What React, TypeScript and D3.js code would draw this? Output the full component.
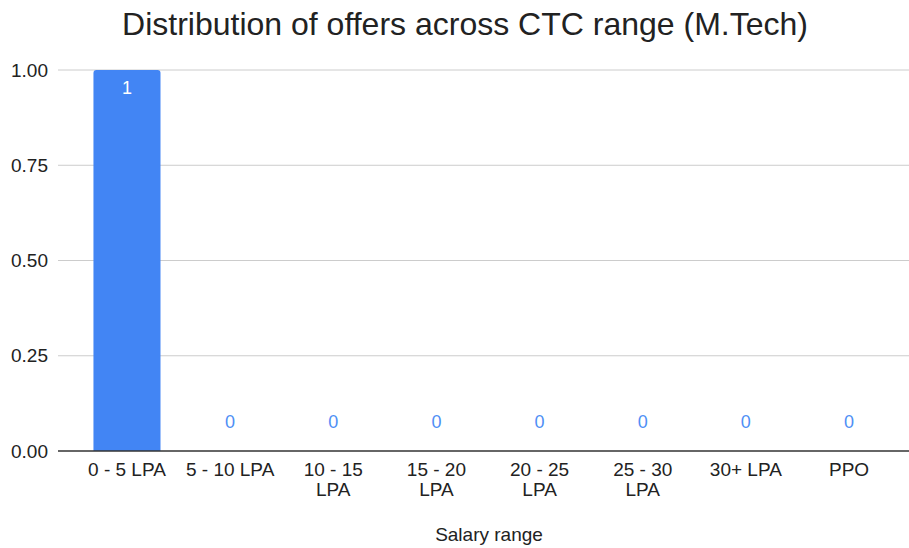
import React from "react";
import * as d3 from "d3";

const categories: string[][] = [
  ["0 - 5 LPA"],
  ["5 - 10 LPA"],
  ["10 - 15", "LPA"],
  ["15 - 20", "LPA"],
  ["20 - 25", "LPA"],
  ["25 - 30", "LPA"],
  ["30+ LPA"],
  ["PPO"],
];
const values: number[] = [1, 0, 0, 0, 0, 0, 0, 0];
const yTicks: number[] = [0, 0.25, 0.5, 0.75, 1];

const W = 909;
const H = 548;
const FONT = "Arial, 'Liberation Sans', sans-serif";

export default function App() {
  const gridLeft = 58;
  const gridRight = 909;
  const x = d3
    .scaleBand<number>()
    .domain(categories.map((_, i) => i))
    .range([75.4, 900.6])
    .paddingInner(0.35)
    .paddingOuter(0.175);
  const y = d3.scaleLinear().domain([0, 1]).range([451, 70]);

  return (
    <div style={{ position: "absolute", left: 0, top: 0 }}>
      <svg width={W} height={H} style={{ display: "block", background: "#fff" }}>
        <text x={465} y={35} textAnchor="middle" fontFamily={FONT} fontSize={32} fill="#222">
          Distribution of offers across CTC range (M.Tech)
        </text>
        {yTicks.map((t) => (
          <g key={t}>
            {t !== 0 && (
              <line x1={gridLeft} x2={gridRight} y1={y(t)} y2={y(t)} stroke="#cccccc" strokeWidth={1} />
            )}
            <text x={48} y={y(t)} dy="0.35em" textAnchor="end" fontFamily={FONT} fontSize={19} fill="#222">
              {d3.format(".2f")(t)}
            </text>
          </g>
        ))}
        {values.map((v, i) => {
          const bx = x(i)!;
          const bw = x.bandwidth();
          const by = y(v);
          const bh = y(0) - y(v);
          const r = 3;
          return (
            <g key={i}>
              {v > 0 && (
                <path
                  d={`M${bx},${by + bh} L${bx},${by + r} Q${bx},${by} ${bx + r},${by} L${bx + bw - r},${by} Q${bx + bw},${by} ${bx + bw},${by + r} L${bx + bw},${by + bh} Z`}
                  fill="#4285f4"
                />
              )}
              <text
                x={bx + bw / 2}
                y={v > 0 ? by + 24 : y(0) - 23}
                textAnchor="middle"
                fontFamily={FONT}
                fontSize={18}
                fill={v > 0 ? "#ffffff" : "#4f8ff5"}
              >
                {v}
              </text>
              {categories[i].map((line, j) => (
                <text
                  key={j}
                  x={bx + bw / 2}
                  y={476 + j * 20}
                  textAnchor="middle"
                  fontFamily={FONT}
                  fontSize={19}
                  fill="#222"
                >
                  {line}
                </text>
              ))}
            </g>
          );
        })}
        <line x1={gridLeft} x2={gridRight} y1={y(0)} y2={y(0)} stroke="#333" strokeWidth={1.5} />
        <text x={489} y={541} textAnchor="middle" fontFamily={FONT} fontSize={19} fill="#222">
          Salary range
        </text>
      </svg>
    </div>
  );
}
